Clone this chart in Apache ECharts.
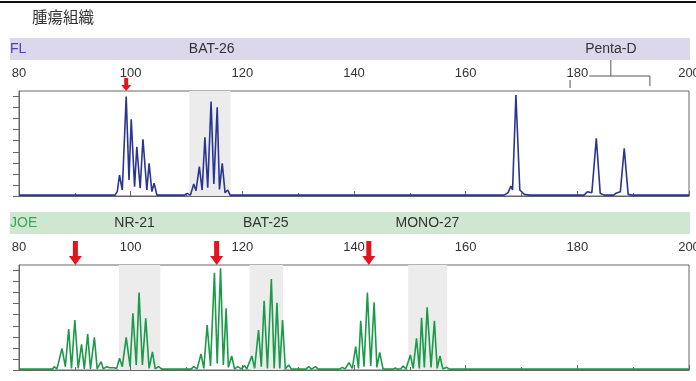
<!DOCTYPE html>
<html>
<head>
<meta charset="utf-8">
<style>
html, body { margin: 0; padding: 0; background: #fff; }
#chart { width: 696px; height: 381px; }
</style>
<script src="https://cdn.jsdelivr.net/npm/echarts@6.0.0/dist/echarts.min.js"></script>
</head>
<body>
<div id="chart"></div>
<script>
// fragment size (bp) axis
var sizeMin = 80, sizeMax = 200, sizeStep = 20;
var yTicks = [0, 10, 20, 30, 40, 50, 60, 70, 80, 90];

// FL channel trace: [size, height]
var flTrace = [
  [80, 0.8], [97.2, 0.8], [97.6, 4], [98.0, 19], [98.5, 5.4], [99.2, 90], [99.7, 14.5],
  [100.1, 69.4], [100.7, 8.4], [101.1, 44.6], [101.7, 7], [102.2, 51.3], [102.9, 5.4],
  [103.3, 29.6], [103.8, 4], [104.2, 11.5], [104.7, 0.8],
  [109.6, 0.8], [110.1, 2.4], [110.7, 0.8], [111.3, 10.9], [111.7, 4.8], [112.3, 26.5],
  [112.8, 5.4], [113.3, 53.1], [113.8, 7.5], [114.4, 85.4], [114.9, 10.9], [115.5, 80.2],
  [115.9, 6], [116.4, 29.6], [116.9, 3], [117.4, 5.4], [117.8, 0.8],
  [166.9, 0.8], [167.6, 3], [168.1, 9], [168.4, 5.4], [169.0, 91.4], [169.7, 5.4],
  [170.5, 1.5], [171.5, 0.8],
  [181.2, 0.8], [181.8, 3.9], [182.6, 3], [183.4, 52.2], [184.1, 2.4], [184.8, 0.8],
  [186.5, 0.8], [186.9, 2.4], [187.7, 3.9], [188.4, 43.1], [189.1, 1.5], [189.8, 0.8],
  [200, 0.8]
];

// JOE channel trace: [size, height]
var joeTrace = [
  [80, 0.8], [86.0, 0.8], [86.3, 3], [86.8, 1], [87.7, 19.6], [88.3, 3], [88.9, 37.1],
  [89.4, 1.5], [90.0, 45.2], [90.6, 1.5], [91.2, 23.2], [91.7, 1], [92.3, 32.6], [92.8, 1],
  [93.5, 29.6], [94.0, 1], [94.7, 7.5], [95.1, 1], [95.7, 3], [96.2, 2], [97.0, 2],
  [97.5, 1.5], [98.0, 10.6], [98.5, 3], [99.2, 29.6], [99.9, 3], [100.4, 51.3], [101.0, 4.5],
  [101.5, 70], [102.1, 4.5], [102.7, 46.8], [103.3, 1.5], [103.9, 16.3], [104.4, 1],
  [105.0, 3], [105.6, 0.8],
  [110.8, 0.8], [111.3, 3], [111.9, 1], [112.6, 14.5], [113.1, 1.5], [113.7, 40.7],
  [114.3, 3.6], [115.0, 88], [115.5, 6], [116.1, 92], [116.6, 4.5], [117.1, 55.8],
  [117.5, 2.4], [118.1, 12.7], [118.6, 1], [119.2, 3], [119.8, 1], [120.4, 3.9], [120.8, 1],
  [121.7, 12.7], [122.2, 1.5], [122.9, 36.2], [123.4, 3], [123.9, 62.7], [124.5, 1.5],
  [125.2, 82.4], [125.7, 1.5], [126.2, 60.9], [126.7, 1.5], [127.2, 45.2], [127.7, 1],
  [128.3, 4.5], [128.8, 0.8],
  [131.4, 0.8], [131.9, 3], [132.4, 0.8], [132.7, 0.8], [133.1, 3], [133.6, 0.8],
  [137.4, 0.8], [137.9, 2.4], [138.4, 1], [139.1, 6.6], [139.7, 1.5], [140.3, 21.1],
  [140.8, 1.5], [141.2, 44.6], [141.8, 3], [142.4, 70], [143.0, 3.6], [143.6, 61.3],
  [144.1, 2.4], [144.6, 16], [145.2, 1], [145.8, 0.8],
  [147.0, 0.8], [147.4, 1.8], [147.8, 0.8], [148.4, 1.2], [148.8, 3.5], [149.3, 1],
  [150.1, 13.6], [150.6, 1.5], [151.2, 28.7], [151.7, 1.5], [152.1, 47.3], [152.6, 2.4],
  [153.1, 56.7], [153.8, 2.4], [154.4, 44.6], [154.9, 1.5], [155.4, 12.7], [155.9, 1],
  [156.6, 2.4], [157.1, 0.8],
  [200, 0.8]
];

// shaded marker regions
var flRegions = [[110.5, 117.9]];
var joeRegions = [[97.9, 105.3], [121.3, 127.3], [149.7, 156.7]];

// marker names and their label centres
var flMarkerNames = ['BAT-26', 'Penta-D'];
var flMarkerPos = [114.5, 186];
var joeMarkerNames = ['NR-21', 'BAT-25', 'MONO-27'];
var joeMarkerPos = [100.7, 124.2, 153.15];
var pentaSpan = [178.7, 193.0];

// red arrows
var flArrows = [99.2];
var joeArrows = [90.1, 115.4, 142.65];

var FONT = '"Liberation Sans", Arial, sans-serif';
var AXIS = '#666';

var myChart = echarts.init(document.getElementById('chart'));

function makeX(gi) {
  return {
    type: 'value', gridIndex: gi, position: 'top', z: 1,
    min: sizeMin, max: sizeMax, interval: sizeStep,
    axisLine: { show: true, lineStyle: { color: AXIS, width: 1 } },
    axisTick: { show: true, inside: false, length: 5, lineStyle: { color: AXIS } },
    minorTick: { show: true, splitNumber: 2, length: 3, lineStyle: { color: AXIS } },
    splitLine: { show: false },
    minorSplitLine: { show: false },
    axisLabel: { margin: 11, fontSize: 13, color: '#333', fontFamily: FONT,
                 backgroundColor: '#fff', padding: [0, 1] }
  };
}
function makeY(gi) {
  return {
    type: 'value', gridIndex: gi, min: 0, max: 95,
    axisLine: { show: true, lineStyle: { color: AXIS, width: 1 } },
    axisTick: { show: true, length: 6, customValues: yTicks, lineStyle: { color: AXIS } },
    axisLabel: { show: false },
    splitLine: { show: false }
  };
}
function regions(list) {
  return list.map(function (r) {
    return [{ xAxis: r[0], yAxis: 0 }, { xAxis: r[1], yAxis: 95 }];
  });
}
var arrowSmall = 'path://M3,0 L7,0 L7,7 L10,7 L5,13 L0,7 L3,7 Z';
var arrowBig = 'path://M4,0 L9,0 L9,15 L13,15 L6.5,24 L0,15 L4,15 Z';
function arrows(list, path, size) {
  return {
    symbol: path, symbolSize: size, symbolOffset: [0, -size[1] / 2],
    itemStyle: { color: '#e3141d' }, label: { show: false },
    data: list.map(function (v) { return { coord: [v, 95] }; })
  };
}

var option = {
  animation: false,
  grid: [
    { left: 19, right: 7, top: 91, height: 105, show: true, borderColor: AXIS, borderWidth: 1,
      outerBoundsMode: 'none', containLabel: false },
    { left: 19, right: 7, top: 265, height: 105, show: true, borderColor: AXIS, borderWidth: 1,
      outerBoundsMode: 'none', containLabel: false }
  ],
  xAxis: [makeX(0), makeX(1)],
  yAxis: [makeY(0), makeY(1)],
  series: [
    {
      type: 'line', xAxisIndex: 0, yAxisIndex: 0, data: [], z: 0, silent: true,
      markArea: { silent: true, itemStyle: { color: '#ececec' }, data: regions(flRegions) }
    },
    {
      type: 'line', xAxisIndex: 1, yAxisIndex: 1, data: [], z: 0, silent: true,
      markArea: { silent: true, itemStyle: { color: '#ececec' }, data: regions(joeRegions) }
    },
    {
      name: 'FL', type: 'line', xAxisIndex: 0, yAxisIndex: 0, z: 3,
      data: flTrace, showSymbol: false, symbol: 'none',
      lineStyle: { color: '#2a3592', width: 1.6 },
      markPoint: arrows(flArrows, arrowSmall, [10, 13])
    },
    {
      name: 'JOE', type: 'line', xAxisIndex: 1, yAxisIndex: 1, z: 3,
      data: joeTrace, showSymbol: false, symbol: 'none',
      lineStyle: { color: '#1b9a4a', width: 1.6 },
      markPoint: arrows(joeArrows, arrowBig, [13, 24])
    }
  ]
};
myChart.setOption(option);

// bands, titles and the Penta-D bracket
function px(gi, v) { return myChart.convertToPixel({ xAxisIndex: gi }, v); }
var bandText = { fontSize: 14, fontFamily: FONT, fill: '#333', align: 'center', verticalAlign: 'middle' };
var elements = [
  { type: 'line', z: 0, shape: { x1: 0, y1: 2, x2: 696, y2: 2 }, style: { stroke: '#111', lineWidth: 2 } },
  { type: 'text', z: 0, x: 32, y: 17, style: { text: '腫瘍組織', fontSize: 15.5, fontFamily: '"Noto Sans CJK JP", sans-serif', fill: '#333', verticalAlign: 'middle' } },
  { type: 'rect', z: 0, shape: { x: 10, y: 38, width: 680, height: 22 }, style: { fill: '#dcd7eb' } },
  { type: 'rect', z: 0, shape: { x: 10, y: 212, width: 680, height: 22 }, style: { fill: '#cfe6d1' } },
  { type: 'text', z: 0, x: 10, y: 49, style: { text: 'FL', fontSize: 14, fontFamily: FONT, fill: '#4545b5', verticalAlign: 'middle' } },
  { type: 'text', z: 0, x: 10, y: 223, style: { text: 'JOE', fontSize: 14, fontFamily: FONT, fill: '#37a85a', verticalAlign: 'middle' } }
];
flMarkerNames.forEach(function (n, i) {
  elements.push({ type: 'text', z: 0, x: px(0, flMarkerPos[i]), y: 49, style: Object.assign({ text: n }, bandText) });
});
joeMarkerNames.forEach(function (n, i) {
  elements.push({ type: 'text', z: 0, x: px(1, joeMarkerPos[i]), y: 223, style: Object.assign({ text: n }, bandText) });
});
var pl = px(0, pentaSpan[0]), pr = px(0, pentaSpan[1]), pc = px(0, flMarkerPos[1]);
elements.push({ type: 'polyline', z: 0, shape: { points: [[pl, 88], [pl, 76], [pr, 76], [pr, 86]] }, style: { stroke: '#555', lineWidth: 1, fill: null } });
elements.push({ type: 'line', z: 0, shape: { x1: pc, y1: 60, x2: pc, y2: 76 }, style: { stroke: '#555', lineWidth: 1 } });
myChart.setOption({ graphic: { elements: elements } });
</script>
</body>
</html>
